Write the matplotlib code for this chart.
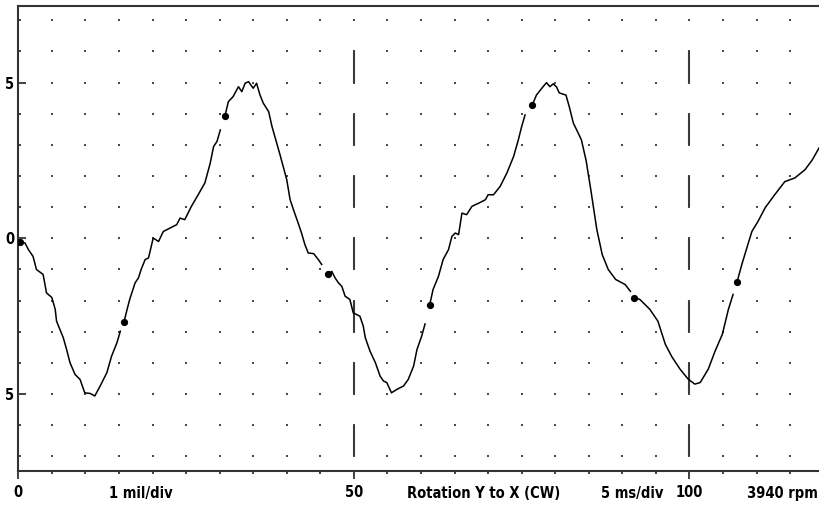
import numpy as np
import matplotlib
matplotlib.use("Agg")
import matplotlib.pyplot as plt
from matplotlib import font_manager
from matplotlib.transforms import blended_transform_factory

# Shaft displacement trace (time in ms, displacement in mil)
time_ms = [
    0.3, 1.0, 1.5, 2.2, 2.7, 3.7, 4.2, 5.0, 5.5, 5.7, 6.7, 7.2, 7.7, 8.45, 9.2, 9.9,
    10.7, 11.4, 12.2, 13.2, 13.9, 14.7, 15.2,
    15.75, 16.2, 16.6, 17.4, 17.9, 18.3, 18.9, 19.4, 20.1, 20.9, 21.6, 22.6, 23.6,
    24.1, 24.8, 25.8, 26.8, 27.8, 28.6, 29.1, 29.6, 30.1,
    30.8, 31.3, 32.0, 32.8, 33.3, 33.8, 34.3, 35.0, 35.5, 36.0, 36.5, 37.3, 37.8,
    38.5, 39.0, 40.0, 40.5, 41.0, 41.7, 42.2, 42.7, 43.2, 44.0, 44.7, 45.2,
    46.2, 46.7, 47.2, 47.7, 48.2, 48.7, 49.4, 49.9, 50.9, 51.4, 51.7, 52.4, 53.2,
    53.9, 54.4, 54.9, 55.6, 56.4, 57.4, 58.1, 58.9, 59.4, 60.1, 60.6,
    61.3, 61.8, 62.6, 63.3, 64.1, 64.6, 65.1, 65.6, 66.1, 66.8, 67.6, 68.6, 69.6,
    70.0, 70.8, 71.8, 72.8, 73.8, 74.5, 75.0, 75.5,
    76.6, 77.2, 78.0, 78.7, 79.2, 79.7, 80.2, 80.6, 81.6, 82.1, 82.7, 83.4, 83.9,
    84.6, 85.3, 86.2, 87.0, 87.9, 89.0, 90.4, 91.2,
    91.8, 92.6, 94.1, 95.3, 96.4, 97.4, 98.6, 99.8, 100.8, 101.6, 102.8, 103.8,
    104.9, 105.8, 106.5,
    107.1, 107.8, 108.7, 109.3, 110.2, 111.3, 112.7, 114.2, 115.7, 117.2, 118.3, 119.3,
]
displacement_mil = [
    -0.12, -0.15, -0.36, -0.58, -1.0, -1.16, -1.75, -1.9, -2.28, -2.66, -3.19, -3.57,
    -3.99, -4.37, -4.53, -4.96, -4.98, -5.06, -4.74, -4.31, -3.78, -3.35, -2.98,
    -2.68, -2.29, -1.96, -1.43, -1.27, -1.0, -0.68, -0.63, 0.01, -0.1, 0.22, 0.33, 0.44,
    0.65, 0.6, 1.03, 1.4, 1.78, 2.42, 2.95, 3.11, 3.48,
    3.94, 4.39, 4.55, 4.87, 4.71, 4.98, 5.03, 4.82, 4.98, 4.61, 4.34, 4.07, 3.59,
    3.06, 2.68, 1.88, 1.24, 0.92, 0.49, 0.17, -0.2, -0.47, -0.49, -0.68, -0.84,
    -1.16, -1.06, -1.27, -1.43, -1.54, -1.86, -1.96, -2.39, -2.5, -2.82, -3.19, -3.62,
    -3.99, -4.42, -4.58, -4.63, -4.96, -4.85, -4.74, -4.53, -4.1, -3.57, -3.14, -2.75,
    -2.13, -1.64, -1.22, -0.68, -0.36, 0.06, 0.17, 0.12, 0.81, 0.76, 1.03, 1.13, 1.24,
    1.4, 1.4, 1.67, 2.1, 2.63, 3.16, 3.59, 3.96,
    4.29, 4.6, 4.82, 5.0, 4.87, 4.96, 4.86, 4.67, 4.6, 4.22, 3.7, 3.39, 3.16,
    2.5, 1.56, 0.28, -0.52, -1.0, -1.32, -1.48, -1.7,
    -1.9, -1.96, -2.28, -2.66, -3.4, -3.81, -4.2, -4.52, -4.68, -4.63, -4.2, -3.63,
    -3.08, -2.28, -1.8,
    -1.39, -0.84, -0.2, 0.22, 0.54, 0.99, 1.4, 1.82, 1.94, 2.2, 2.52, 2.9,
]

# Once-per-turn keyphasor events
keyphasor_ms = [0.3, 15.75, 30.8, 46.2, 61.3, 76.6, 91.8, 107.1]
keyphasor_mil = [-0.12, -2.68, 3.94, -1.16, -2.13, 4.29, -1.9, -1.39]

x_tick_values = [0, 50, 100]
x_tick_labels = ["0", "50", "100"]
y_tick_values = [-5, 0, 5]
y_tick_labels = ["5", "0", "5"]

bottom_notes = [(18.3, "1 mil/div"), (69.4, "Rotation Y to X (CW)"),
                (91.5, "5 ms/div"), (113.8, "3940 rpm")]

# Pick a narrow bold face if one is available
available = {f.name for f in font_manager.fontManager.ttflist}
narrow = [n for n in ("Liberation Sans Narrow", "DejaVu Sans Condensed")
          if n in available]
if narrow:
    font = dict(family=[narrow[0], "DejaVu Sans"], weight="bold", size=11.5)
else:
    font = dict(family=["DejaVu Sans"], weight="bold", size=10.5,
                stretch="condensed")

W, H = 819, 505
fig = plt.figure(figsize=(W / 100, H / 100), dpi=100)
left_px, top_px, bottom_px = 18.3, 5.7, 471.0
ax = fig.add_axes([left_px / W, 1 - bottom_px / H, 1 - left_px / W,
                   (bottom_px - top_px) / H])

XMAX = 119.3
YLIM = 7.47
ax.set_xlim(0, XMAX)
ax.set_ylim(-YLIM, YLIM)

# Dotted graticule
gx = np.arange(5, XMAX, 5)
gy = np.arange(-7, 8, 1)
GX, GY = np.meshgrid(gx, gy)
ax.scatter(GX.ravel(), GY.ravel(), s=1.3, marker="s", color="#4a4a4a",
           linewidths=0, zorder=1)

# Dashed markers at 50 ms and 100 ms
dash_tops = np.arange(6, -8, -2)
for xv in (50, 100):
    ax.vlines([xv] * len(dash_tops), dash_tops - 1, dash_tops,
              color="#3a3a3a", lw=1.5, zorder=2)

# Trace, broken into one segment per revolution
t = np.asarray(time_ms)
v = np.asarray(displacement_mil)
edges = list(keyphasor_ms) + [np.inf]
for a, b in zip(edges[:-1], edges[1:]):
    m = (t >= a) & (t < b)
    ax.plot(t[m], v[m], color="black", lw=1.1, zorder=3)

ax.plot(keyphasor_ms, keyphasor_mil, "o", color="black", ms=4.2, zorder=4)

# Frame
for side in ("left", "top", "bottom"):
    ax.spines[side].set_color("#333333")
    ax.spines[side].set_linewidth(1.5)
ax.spines["right"].set_visible(False)

ax.set_xticks(x_tick_values)
ax.set_xticklabels(x_tick_labels, fontdict=font)
ax.set_xticks(np.arange(5, XMAX, 5), minor=True)
ax.set_yticks(y_tick_values)
ax.set_yticklabels(y_tick_labels, fontdict=font)
ax.set_yticks(np.arange(-7, 8, 1), minor=True)

ax.tick_params(axis="x", which="major", direction="out", length=5.8, width=1.3,
               color="#333333", pad=4.5)
ax.tick_params(axis="x", which="minor", direction="out", length=2.5, width=1.3,
               color="#333333")
ax.tick_params(axis="y", which="major", direction="in", length=5.8, width=1.3,
               color="#333333", pad=3)
ax.tick_params(axis="y", which="minor", direction="in", length=2.2, width=1.3,
               color="#333333")

trans = blended_transform_factory(ax.transData, ax.transAxes)
for xv, txt in bottom_notes:
    ax.text(xv, -22 / (bottom_px - top_px), txt, transform=trans, ha="center",
            va="center", **font)

fig.savefig("out.png", dpi=100)
